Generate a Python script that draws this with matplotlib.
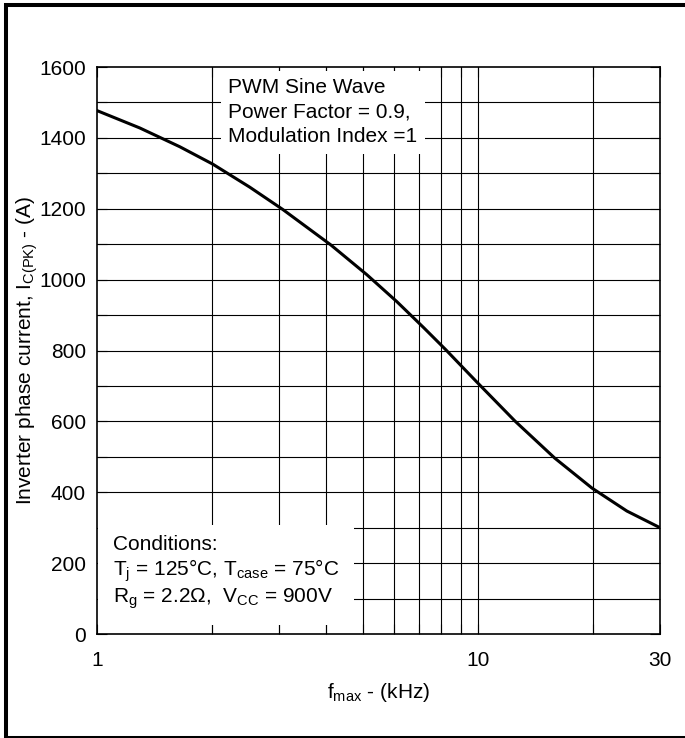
import matplotlib.pyplot as plt
from matplotlib.patches import Rectangle

plt.rcParams['font.family'] = ['Liberation Sans', 'DejaVu Sans']
plt.rcParams['mathtext.default'] = 'regular'

# Curve
freq_khz = [1, 1.295, 1.649, 2.012, 2.516, 3.072, 4.106, 5.104, 6.118, 7.204, 8.228, 9.118,
            9.922, 12.49, 15.9, 19.88, 24.56, 30]
current_a = [1477, 1428, 1375, 1326, 1261, 1198, 1098, 1014, 938, 864, 802, 752,
             711, 601, 496, 412, 347, 300]

# Axis ticks / grid
x_ticks = [1, 10, 30]
x_tick_labels = ['1', '10', '30']
x_grid = [2, 3, 4, 5, 6, 7, 8, 9, 10, 20]
y_ticks = [0, 200, 400, 600, 800, 1000, 1200, 1400, 1600]
y_grid = [100, 200, 300, 400, 500, 600, 700, 800, 900, 1000, 1100, 1200, 1300, 1400, 1500]

fig = plt.figure(figsize=(6.85, 7.38), dpi=100)
ax = fig.add_axes([0.1416, 0.1409, 0.8219, 0.7683])

# grid drawn by hand so the note boxes can hide it while ticks stay visible
for xv in x_grid:
    ax.axvline(xv, color='black', lw=0.8, zorder=0.8)
for yv in y_grid:
    ax.axhline(yv, color='black', lw=0.8, zorder=0.8)

ax.plot(freq_khz, current_a, color='black', lw=2.2, zorder=3)

ax.set_xscale('log')
ax.set_xlim(1, 30)
ax.set_ylim(0, 1600)
ax.set_xticks(x_ticks)
ax.set_xticklabels(x_tick_labels)
ax.set_xticks(x_grid, minor=True)
ax.set_xticklabels([], minor=True)
ax.set_yticks(y_ticks)
ax.set_yticks(y_grid, minor=True)

ax.tick_params(which='both', direction='in', length=7, width=0.8,
               top=True, right=True, labelsize=15)
ax.tick_params(axis='x', which='major', pad=12.5)
ax.tick_params(axis='y', which='major', pad=8)
for s in ax.spines.values():
    s.set_linewidth(1.2)

ax.set_xlabel('f$_{max}$ - (kHz)', fontsize=15, labelpad=8)
ax.set_ylabel('Inverter phase current, I$_{C(PK)}$ - (A)', fontsize=15, labelpad=-1)

ax.text(0.233, 0.98, 'PWM Sine Wave\nPower Factor = 0.9,\nModulation Index =1',
        transform=ax.transAxes, fontsize=15, va='top', ha='left', linespacing=1.37,
        bbox=dict(boxstyle='square,pad=0.35', fc='white', ec='none'), zorder=2)

ax.text(0.028, 0.174, 'Conditions:\nT$_j$ = 125°C, T$_{case}$ = 75°C\nR$_g$ = 2.2Ω,  V$_{CC}$ = 900V',
        transform=ax.transAxes, fontsize=15, va='top', ha='left', linespacing=1.15,
        bbox=dict(boxstyle='square,pad=0.7', fc='white', ec='none'), zorder=2)

# outer frame of the datasheet figure
fig.patches.append(Rectangle((0.0088, 0.0), 1.0, 0.9932, transform=fig.transFigure,
                             fill=False, ec='black', lw=2.9, clip_on=False))

fig.savefig('out.png', dpi=100)
